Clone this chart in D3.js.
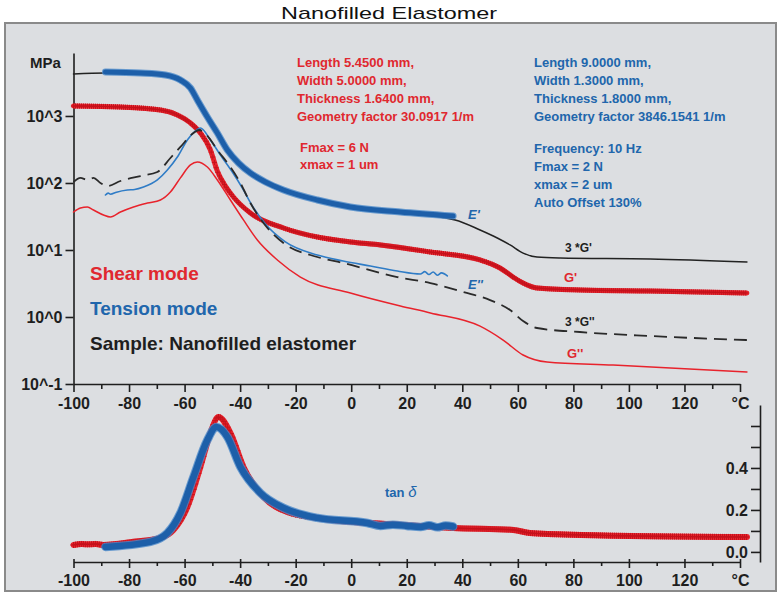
<!DOCTYPE html>
<html>
<head>
<meta charset="utf-8">
<script src="https://cdn.jsdelivr.net/npm/d3@7"></script>
<style>
body{margin:0;background:#fff;}
svg text{font-family:"Liberation Sans",Arial,sans-serif;}
</style>
</head>
<body>
<svg id="chart" width="779" height="594"></svg>
<script>
//
// data: [temperature in °C, value]
//
var tempTicks = [-100,-80,-60,-40,-20,0,20,40,60,80,100,120,140];
var tempMinor = [-90,-70,-50,-30,-10,10,30,50,70,90,110,130];
var logTicks = [0.1,1,10,100,1000];
var logTickLabels = ["10^-1","10^0","10^1","10^2","10^3"];
var tanTicks = [0,0.1,0.2,0.3,0.4,0.5,0.6];
var tanTickLabels = ["0.0","","0.2","","0.4","",""];

// 3*G' (black solid), MPa
var black3Gp = [[-100,4236],[-88.5,4385],[-75.9,4385],[-66.9,4090],[-61.5,3443],[-57.9,2620],[-55.4,1733],[-51.8,966],[-48.2,557],[-44.6,311],[-40.6,199],[-36.3,141],[-30.9,103.5],[-24.4,78.7],[-12.2,55.7],[-0.3,43.9],[17.7,35.6],[37.4,28.1],[46.4,19.9],[52.6,15.1],[57.2,11.9],[61.9,9.0],[66.9,7.86],[75.2,7.6],[107.6,7.34],[142.5,6.62]];
// E' tension (blue thick)
var tensionEp = [[-88.5,4540],[-75.9,4385],[-66.9,4090],[-61.5,3443],[-57.9,2620],[-55.4,1733],[-51.8,966],[-48.2,557],[-44.6,311],[-40.6,199],[-36.3,141],[-30.9,103.5],[-24.4,78.7],[-12.2,55.7],[-0.3,43.9],[17.7,36.9],[36.7,32.1]];
// G' shear (red thick with crosses)
var shearGp = [[-100,1410],[-83.1,1362],[-68.7,1230],[-62.6,1035],[-57.9,787],[-54.3,557],[-50.7,311],[-48.2,150],[-45.3,90],[-42.4,61.8],[-36.3,35.6],[-24.4,21.3],[-12.2,15.6],[-0.3,13.2],[10.5,11.9],[28.5,9.33],[46.4,7.10],[53.6,5.38],[58.3,3.95],[61.9,3.21],[66.9,2.71],[82.4,2.53],[107.6,2.44],[142.5,2.28]];
// 3*G'' (black dashed)
var black3Gpp = [[-100,103.5],[-97.5,119],[-95,111],[-92.8,119],[-90.3,100],[-87.8,90.2],[-83.1,107],[-75.9,127],[-69.8,146],[-65.1,236],[-61.5,345],[-56.8,557],[-54.7,618],[-51.8,503],[-48.2,311],[-43.5,173],[-39.9,100],[-36.3,50.2],[-31.6,25.3],[-24.4,12.7],[-12.2,7.86],[-2.9,6.40],[16.6,3.95],[28.5,3.21],[40.3,2.36],[50,1.79],[57.2,1.27],[61.9,0.871],[66.9,0.685],[82.4,0.597],[107.6,0.520],[142.5,0.453]];
// E'' tension (blue thin)
var tensionEpp = [[-88.5,66.2],[-87.5,70.5],[-86.7,68],[-84.5,73],[-80.6,78.7],[-78,80],[-74.8,87.1],[-69.8,111],[-66.2,156],[-62.6,244],[-59,438],[-56.1,597],[-54.3,662],[-50.7,438],[-47.1,262],[-42.8,146],[-39.2,84.1],[-35.6,45.4],[-30.9,24.4],[-23.7,13.2],[-12.2,8.41],[-2.9,6.86],[6.9,5.77],[16.6,4.86],[24.9,4.39],[26.5,4.75],[28,4.3],[29.5,4.7],[31,4.2],[32.5,4.55],[34.6,4.1]];
// G'' shear (red thin)
var shearGpp = [[-100,36.9],[-97.5,42.4],[-95,43.9],[-92.8,39.5],[-89.2,33.3],[-86.7,31.1],[-83.1,36.9],[-78.4,43.9],[-73.4,50.2],[-68.7,55.7],[-65.1,73.4],[-61.5,119],[-57.9,186],[-55.4,206],[-51.8,173],[-48.2,111],[-43.5,55.7],[-38.8,28.1],[-33.8,14.1],[-26.6,7.10],[-18.3,3.95],[-0.3,2.28],[17.7,1.46],[28.5,1.15],[46.4,0.73],[54.7,0.453],[61.9,0.271],[70.5,0.213],[94.3,0.192],[142.5,0.151]];
// tan delta
var shearTan = [[-100,0.033],[-97,0.038],[-95,0.036],[-92,0.038],[-89.2,0.033],[-78.4,0.048],[-68.7,0.067],[-64,0.105],[-59,0.214],[-54.3,0.405],[-50.7,0.567],[-47.8,0.643],[-43.5,0.567],[-38.8,0.405],[-31.6,0.262],[-23,0.19],[-12.2,0.162],[17.7,0.129],[36.7,0.114],[58.3,0.105],[64.4,0.09],[82.4,0.081],[142.5,0.071]];
var tensionTan = [[-88.5,0.024],[-72.3,0.048],[-66.2,0.09],[-61.5,0.186],[-56.8,0.357],[-51.8,0.533],[-48.5,0.595],[-44.6,0.548],[-39.9,0.405],[-32.7,0.281],[-24.4,0.21],[-12.2,0.162],[5.8,0.138],[10.5,0.124],[15,0.13],[20,0.124],[25,0.119],[28,0.127],[31,0.117],[34,0.126],[36.7,0.121]];

var shearInfo = ["Length 5.4500 mm,","Width 5.0000 mm,","Thickness 1.6400 mm,","Geometry factor 30.0917 1/m"];
var shearInfo2 = ["Fmax = 6 N","xmax = 1 um"];
var tensionInfo = ["Length 9.0000 mm,","Width 1.3000 mm,","Thickness 1.8000 mm,","Geometry factor 3846.1541 1/m"];
var tensionInfo2 = ["Frequency: 10 Hz","Fmax = 2 N","xmax = 2 um","Auto Offset 130%"];

var RED = "#e8232c", DARKRED = "#c4121c", BLUE = "#1d5fa9", LBLUE = "#4a88c9", INK = "#1e1e1e";

var svg = d3.select("#chart");

// title + panel
svg.append("text").attr("x",389).attr("y",19).attr("text-anchor","middle")
    .attr("font-size",17).attr("fill","#111")
    .attr("textLength",216).attr("lengthAdjust","spacingAndGlyphs")
    .text("Nanofilled Elastomer");
svg.append("rect").attr("x",5).attr("y",23).attr("width",771).attr("height",568)
    .attr("fill","#dcdee1").attr("stroke","#8a8a8a").attr("stroke-width",2);

var x = d3.scaleLinear().domain([-100,140]).range([73.5,740]);
var yTop = d3.scaleLog().domain([0.1,8710]).range([384,53]);
var yBot = d3.scaleLinear().domain([-0.048,0.7]).range([562,405]);

var lineTop = d3.line().x(d => x(d[0])).y(d => yTop(d[1])).curve(d3.curveMonotoneX);
var lineBot = d3.line().x(d => x(d[0])).y(d => yBot(d[1])).curve(d3.curveMonotoneX);

function styleAxis(g){
    g.selectAll("path.domain").attr("stroke",INK).attr("stroke-width",1.6);
    g.selectAll(".tick line").attr("stroke",INK).attr("stroke-width",1.6);
    g.selectAll("text").attr("font-size",16).attr("font-weight","bold").attr("fill",INK);
}

// ---- top axes
var gx = svg.append("g").attr("transform","translate(0,384)")
    .call(d3.axisBottom(x).tickValues(tempTicks).tickSize(8).tickSizeOuter(0).tickPadding(6)
        .tickFormat(d => d == 140 ? "°C" : d));
styleAxis(gx);
var gxm = svg.append("g").attr("transform","translate(0,384)")
    .call(d3.axisBottom(x).tickValues(tempMinor).tickSize(5).tickFormat(""));
styleAxis(gxm); gxm.select("path.domain").remove();

var gy = svg.append("g").attr("transform","translate(73.5,0)")
    .call(d3.axisLeft(yTop).tickValues(logTicks).tickSize(8).tickSizeOuter(0).tickPadding(3)
        .tickFormat((d,i) => logTickLabels[i]));
styleAxis(gy);

// ---- bottom axes
var gx2 = svg.append("g").attr("transform","translate(0,562)")
    .call(d3.axisBottom(x).tickValues(tempTicks).tickSize(6).tickSizeOuter(0).tickPadding(7)
        .tickFormat(d => d == 140 ? "°C" : d));
styleAxis(gx2);
gx2.selectAll(".tick line").attr("y1",-3);
var gx2m = svg.append("g").attr("transform","translate(0,562)")
    .call(d3.axisBottom(x).tickValues(tempMinor).tickSize(4).tickFormat(""));
styleAxis(gx2m); gx2m.select("path.domain").remove();

var gy2 = svg.append("g").attr("transform","translate(760,0)")
    .call(d3.axisLeft(yBot).tickValues(tanTicks).tickSize(9).tickSizeOuter(0).tickPadding(3)
        .tickFormat((d,i) => tanTickLabels[i]));
styleAxis(gy2);

svg.append("text").attr("x",30).attr("y",68).attr("font-size",15).attr("font-weight","bold")
    .attr("fill",INK).text("MPa");

// "+" data markers along a drawn path, one every dx pixels in x
// (they hide inside the thick line where it is flat, show where it is steep)
function addCrosses(pathSel, dx, r, color){
    var node = pathSel.node(), len = node.getTotalLength();
    var pts = [], lastX = -1e9;
    for(var l = 0; l <= len; l += 0.4){
        var p = node.getPointAtLength(l);
        if(p.x - lastX >= dx){ pts.push(p); lastX = p.x; }
    }
    svg.append("path")
        .attr("d", pts.map(p => "M"+(p.x-r)+","+p.y+"h"+(2*r)+"M"+p.x+","+(p.y-r)+"v"+(2*r)).join(""))
        .attr("stroke",color).attr("stroke-width",1).attr("fill","none");
}

function drawLine(data, gen, color, width, extra){
    var p = svg.append("path").attr("d", gen(data)).attr("fill","none")
        .attr("stroke",color).attr("stroke-width",width)
        .attr("stroke-linejoin","round").attr("stroke-linecap","round");
    if(extra) extra(p);
    return p;
}

// ---- top curves
drawLine(black3Gp, lineTop, "#222", 1.5);
drawLine(tensionEp, lineTop, LBLUE, 7, p => p.attr("opacity",0.8));
drawLine(tensionEp, lineTop, BLUE, 5);
drawLine(shearGpp, lineTop, RED, 1.5);
var gp = drawLine(shearGp, lineTop, RED, 5);
addCrosses(gp, 1.6, 2.6, DARKRED);
drawLine(tensionEpp, lineTop, "#2f7cc6", 1.6);
drawLine(black3Gpp, lineTop, "#2a2a2a", 1.8, p => p.attr("stroke-dasharray","13,7").attr("stroke-linecap","butt"));

// ---- bottom curves (tan delta)
var rt = drawLine(shearTan, lineBot, RED, 6);
addCrosses(rt, 1.6, 3, DARKRED);
drawLine(tensionTan, lineBot, LBLUE, 8.5, p => p.attr("opacity",0.8));
drawLine(tensionTan, lineBot, BLUE, 6.5);

// ---- texts
function block(lines, x0, y0, dy, color){
    lines.forEach(function(t,i){
        svg.append("text").attr("x",x0).attr("y",y0+i*dy).attr("font-size",13)
            .attr("font-weight","bold").attr("fill",color).text(t);
    });
}
block(shearInfo, 297, 67, 18, "#e0282f");
block(shearInfo2, 300, 152, 17, "#e0282f");
block(tensionInfo, 534, 67, 18, "#2166ac");
block(tensionInfo2, 534, 153, 18, "#2166ac");

function label(t, x0, y0, color, size, italic){
    svg.append("text").attr("x",x0).attr("y",y0).attr("font-size",size).attr("font-weight","bold")
        .attr("font-style", italic ? "italic" : "normal").attr("fill",color).text(t);
}
label("Shear mode", 90, 280, "#e0282f", 19);
label("Tension mode", 90, 315, "#2166ac", 19);
label("Sample: Nanofilled elastomer", 90, 350, INK, 19);

label("E'", 468, 219, "#2166ac", 13, true);
label("E''", 468, 289, "#2166ac", 13, true);
label("3 *G'", 565, 252, INK, 12);
label("G'", 564, 282, "#e0282f", 13);
label("3 *G''", 565, 326, INK, 12);
label("G''", 567, 358, "#e0282f", 13);

var tan = svg.append("text").attr("x",385).attr("y",497).attr("font-size",13)
    .attr("font-weight","bold").attr("fill","#2166ac");
tan.append("tspan").text("tan ");
tan.append("tspan").attr("font-style","italic").attr("font-weight","normal").attr("font-size",15).text("δ");
</script>
</body>
</html>
